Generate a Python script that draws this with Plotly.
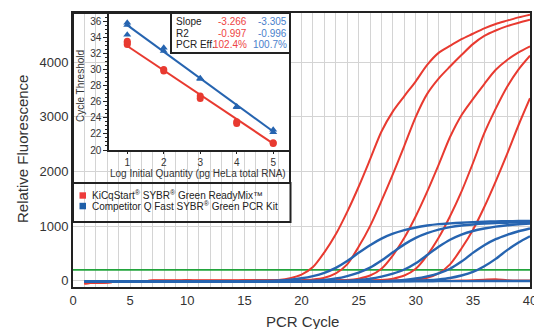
import plotly.graph_objects as go

# ---------------- data ----------------
cycles = list(range(1, 41))

red_1 = [-45, -36, -26, -17, -10, -5, -2, 0, 1, 2, 1, 0, 0, 1, 2, 3, 6, 15, 45, 110,
         250, 520, 850, 1260, 1720, 2220, 2730, 3100, 3380, 3650, 3950, 4170, 4300, 4420, 4520, 4620, 4700, 4760, 4820, 4870]
red_2 = [-45, -36, -26, -17, -10, -5, -2, 0, 1, 2, 1, 0, 0, 1, 2, 2, 3, 4, 6, 10,
         22, 55, 135, 300, 620, 1000, 1460, 1950, 2470, 3000, 3420, 3700, 3920, 4130, 4330, 4480, 4580, 4660, 4720, 4775]
red_3 = [-45, -36, -26, -17, -10, -5, -2, 0, 1, 2, 1, 0, 0, 1, 2, 2, 3, 3, 4, 4,
         5, 5, 8, 13, 38, 95, 220, 465, 785, 1180, 1630, 2120, 2630, 3030, 3325, 3600, 3860, 4040, 4180, 4290]
red_4 = [-45, -36, -26, -17, -10, -5, -2, 0, 1, 2, 1, 0, 0, 1, 2, 2, 3, 3, 4, 4,
         4, 5, 5, 5, 6, 6, 13, 38, 95, 220, 465, 785, 1180, 1630, 2150, 2700, 3150, 3550, 3870, 4120]
red_5 = [-45, -36, -26, -17, -10, -5, -2, 0, 1, 2, 1, 0, 0, 1, 2, 2, 3, 3, 4, 4,
         4, 4, 5, 5, 5, 5, 5, 5, 7, 20, 55, 135, 300, 590, 930, 1350, 1820, 2320, 2850, 3340]
red_ntc = [-45, -36, -26, -17, -10, -5, -2, 0, 1, 2, 1, 0, 0, 1, 1, 1, 1, 1, 1, 1,
           1, 1, 1, 1, 1, 1, 1, 1, 1, 1, 1, 1, 1, 2, 8, 18, 25, 10, 3, 2]

blue_1 = [-12, -14, -15, -15, -15, -15, -15, -15, -14, -14, -13, -13, -12, -11, -9, -6, -2, 6, 20, 45,
          85, 145, 235, 360, 510, 650, 770, 860, 925, 975, 1010, 1035, 1050, 1062, 1072, 1080, 1085, 1089, 1092, 1095]
blue_2 = [-12, -14, -15, -15, -15, -15, -15, -15, -15, -15, -15, -15, -15, -14, -14, -13, -13, -12, -11, -8,
          0, 15, 40, 85, 150, 240, 370, 520, 665, 785, 870, 935, 980, 1010, 1030, 1045, 1055, 1062, 1067, 1071]
blue_3 = [-12, -14, -15, -15, -15, -15, -15, -15, -15, -15, -15, -15, -15, -15, -15, -15, -15, -14, -14, -13,
          -12, -11, -8, 0, 12, 35, 75, 130, 205, 320, 470, 620, 750, 845, 910, 955, 990, 1015, 1033, 1047]
blue_4 = [-12, -14, -15, -15, -15, -15, -15, -15, -15, -15, -15, -15, -15, -15, -15, -15, -15, -15, -15, -15,
          -15, -14, -14, -13, -12, -11, -8, 0, 15, 40, 80, 135, 220, 350, 510, 650, 760, 840, 905, 956]
blue_5 = [-12, -14, -15, -15, -15, -15, -15, -15, -15, -15, -15, -15, -15, -15, -15, -15, -15, -15, -15, -15,
          -15, -15, -15, -15, -14, -14, -13, -12, -8, 0, 10, 25, 50, 95, 160, 265, 400, 560, 700, 815]
blue_ntc = [-12, -14, -15, -15, -15, -15, -15, -15, -15, -15, -15, -15, -15, -15, -14, -14, -14, -14, -13, -13,
            -13, -12, -12, -12, -11, -11, -10, -10, -10, -9, -9, -8, -8, -7, -7, -6, -6, -6, -5, -5]

threshold = 200
threshold_span = [0, 40]

# inset (standard curve)
red_logq = [1, 1, 1, 2, 2, 3, 3, 4, 4, 5, 5]
red_ct = [33.1, 33.3, 33.5, 29.8, 30.0, 26.4, 26.7, 23.3, 23.5, 20.8, 20.9]
blue_logq = [1, 1, 1, 2, 2, 3, 3, 4, 4, 5, 5]
blue_ct = [35.5, 35.8, 34.3, 32.3, 32.7, 28.8, 28.9, 25.3, 25.4, 22.2, 22.5]
fit_x = [1, 5]
red_fit = [32.9, 20.8]
blue_fit = [35.5, 22.3]

stat_labels = ["Slope", "R2", "PCR Eff."]
red_stats = ["-3.266", "-0.997", "102.4%"]
blue_stats = ["-3.305", "-0.996", "100.7%"]

legend_names = ["KiCqStart<sup>®</sup> SYBR<sup>®</sup> Green ReadyMix™",
                "Competitor Q Fast SYBR<sup>®</sup> Green PCR Kit"]

x_ticks = [0, 5, 10, 15, 20, 25, 30, 35, 40]
y_ticks = [0, 1000, 2000, 3000, 4000]
inset_x_ticks = [1, 2, 3, 4, 5]
inset_y_ticks = [20, 22, 24, 26, 28, 30, 32, 34, 36]

# ---------------- style ----------------
RED = "#e83a30"
BLUE = "#2664b0"
RED_TXT = "#ee4444"
BLUE_TXT = "#4a7fcc"
DARK = "#222222"
GRID = "#d4d4d4"
FONT = "Liberation Sans, Arial, sans-serif"

fig = go.Figure()

fig.add_trace(go.Scatter(x=threshold_span, y=[threshold, threshold], mode="lines",
                         line=dict(color="#22a43c", width=1.7), hoverinfo="skip", showlegend=False))

red_curves = [red_ntc, red_5, red_4, red_3, red_2, red_1]
blue_curves = [blue_ntc, blue_5, blue_4, blue_3, blue_2, blue_1]
for ys in red_curves:
    fig.add_trace(go.Scatter(x=cycles, y=ys, mode="lines", line=dict(color=RED, width=2, shape="spline", smoothing=0.8),
                             hoverinfo="skip", showlegend=False))
for ys in blue_curves:
    fig.add_trace(go.Scatter(x=cycles, y=ys, mode="lines", line=dict(color=BLUE, width=2.4, shape="spline", smoothing=0.8),
                             hoverinfo="skip", showlegend=False))

# inset traces
fig.add_trace(go.Scatter(x=fit_x, y=red_fit, mode="lines", line=dict(color=RED, width=2),
                         xaxis="x2", yaxis="y2", showlegend=False, hoverinfo="skip"))
fig.add_trace(go.Scatter(x=fit_x, y=blue_fit, mode="lines", line=dict(color=BLUE, width=2),
                         xaxis="x2", yaxis="y2", showlegend=False, hoverinfo="skip"))
fig.add_trace(go.Scatter(x=red_logq, y=red_ct, mode="markers", marker=dict(color=RED, size=7, symbol="circle"),
                         xaxis="x2", yaxis="y2", showlegend=False, hoverinfo="skip"))
fig.add_trace(go.Scatter(x=blue_logq, y=blue_ct, mode="markers", marker=dict(color=BLUE, size=7, symbol="triangle-up"),
                         xaxis="x2", yaxis="y2", showlegend=False, hoverinfo="skip"))

# geometry helpers (pixel -> paper), plot area: x 73..530, y 13..287
L, R, T, B = 73, 530, 13, 287
W, H = R - L, B - T
def px(x):
    return (x - L) / W
def py(y):
    return (B - y) / H

# inset axes pixel box
IX0, IX1, IY0, IY1 = 109, 290, 150, 13
def ix(x):
    return (x - IX0) / (IX1 - IX0)
def iy(y):
    return (IY0 - y) / (IY0 - IY1)

shapes = [
    # white backing for inset + legend: drawn in the inset subplot's lower layer (above main plot)
    dict(type="rect", xref="x2 domain", yref="y2 domain", x0=ix(72), x1=ix(291), y0=iy(222.5), y1=iy(12),
         fillcolor="white", line=dict(width=0), layer="below"),
    # inset border
    dict(type="rect", xref="paper", yref="paper", x0=0, x1=px(290), y0=py(183), y1=1,
         line=dict(color=DARK, width=2), fillcolor="rgba(0,0,0,0)", layer="above"),
    # legend border
    dict(type="rect", xref="paper", yref="paper", x0=0, x1=px(290.5), y0=py(222), y1=py(183),
         line=dict(color=DARK, width=2), fillcolor="rgba(0,0,0,0)", layer="above"),
    # stats box
    dict(type="rect", xref="paper", yref="paper", x0=px(171), x1=px(290), y0=py(53), y1=1,
         line=dict(color=DARK, width=2), fillcolor="white", layer="above"),
    # legend squares
    dict(type="rect", xref="paper", yref="paper", x0=px(79.5), x1=px(86), y0=py(198.7), y1=py(192.3),
         line=dict(width=0), fillcolor="#ee3b3b", layer="above"),
    dict(type="rect", xref="paper", yref="paper", x0=px(79.5), x1=px(86), y0=py(209.3), y1=py(202.8),
         line=dict(width=0), fillcolor="#1f5fa8", layer="above"),
]

ann = []
# axis titles
ann.append(dict(text="Relative Fluorescence", x=px(22), y=py(149), xref="paper", yref="paper", textangle=-90,
                showarrow=False, font=dict(size=15, color="#333"), xanchor="center", yanchor="middle"))
ann.append(dict(text="PCR Cycle", x=px(302), y=py(321), xref="paper", yref="paper",
                showarrow=False, font=dict(size=15, color="#333"), xanchor="center", yanchor="middle"))
# inset titles
ann.append(dict(text="Cycle Threshold", x=px(81), y=py(86), xref="paper", yref="paper", textangle=-90,
                showarrow=False, font=dict(size=10, color="#333"), xanchor="center", yanchor="middle"))
ann.append(dict(text="Log Initial Quantity (pg HeLa total RNA)", x=px(198), y=py(173.5), xref="paper", yref="paper",
                showarrow=False, font=dict(size=10, color="#333"), xanchor="center", yanchor="middle"))
# stats
rows_y = [21.7, 33.3, 45]
for lab, rv, bv, yy in zip(stat_labels, red_stats, blue_stats, rows_y):
    ann.append(dict(text=lab, x=px(173.5), y=py(yy), xref="paper", yref="paper", showarrow=False,
                    font=dict(size=10, color="#222"), xanchor="left", yanchor="middle"))
    ann.append(dict(text=rv, x=px(249), y=py(yy), xref="paper", yref="paper", showarrow=False,
                    font=dict(size=10, color=RED_TXT), xanchor="right", yanchor="middle"))
    ann.append(dict(text=bv, x=px(289), y=py(yy), xref="paper", yref="paper", showarrow=False,
                    font=dict(size=10, color=BLUE_TXT), xanchor="right", yanchor="middle"))
# legend texts
for name, yy in zip(legend_names, [195.0, 205.5]):
    ann.append(dict(text=name, x=px(90), y=py(yy), xref="paper", yref="paper", showarrow=False,
                    font=dict(size=10, color="#222"), xanchor="left", yanchor="middle"))

fig.update_layout(
    width=534, height=329,
    margin=dict(l=L, r=534 - R, t=T, b=329 - B, autoexpand=False),
    paper_bgcolor="white", plot_bgcolor="white",
    font=dict(family=FONT, color="#333"),
    showlegend=False,
    shapes=shapes, annotations=ann,
    xaxis=dict(domain=[0, 1], range=[0, 40], tickvals=x_ticks, showgrid=True, gridcolor=GRID, gridwidth=1,
               minor=dict(dtick=1, tick0=0, showgrid=True, gridcolor=GRID, gridwidth=1),
               showline=True, mirror=True, linecolor=DARK, linewidth=2, zeroline=False, ticks="",
               tickfont=dict(size=13, color="#333"), ticklabeloverflow="allow", automargin=False),
    yaxis=dict(domain=[0, 1], range=[-115, 4900], tickvals=y_ticks, showgrid=True, gridcolor=GRID, gridwidth=1,
               showline=True, mirror=True, linecolor=DARK, linewidth=2, zeroline=False, ticks="",
               tickfont=dict(size=13, color="#333"), automargin=False),
    xaxis2=dict(domain=[px(IX0), px(IX1)], anchor="y2", range=[0.5, 5.46], tickvals=inset_x_ticks,
                showgrid=False, zeroline=False, showline=True, linecolor=DARK, linewidth=1.5,
                ticks="outside", ticklen=2, tickcolor=DARK, tickfont=dict(size=10, color="#333"), automargin=False),
    yaxis2=dict(domain=[py(IY0), 1], anchor="x2", range=[20, 37], tickvals=inset_y_ticks,
                showgrid=False, zeroline=False, showline=True, linecolor=DARK, linewidth=1.5,
                ticks="outside", ticklen=4, tickcolor=DARK, tickfont=dict(size=10, color="#333"), automargin=False,
                minor=dict(dtick=0.5, tick0=20, ticks="outside", ticklen=2, tickcolor=DARK)),
)

fig.write_html("out.html")
